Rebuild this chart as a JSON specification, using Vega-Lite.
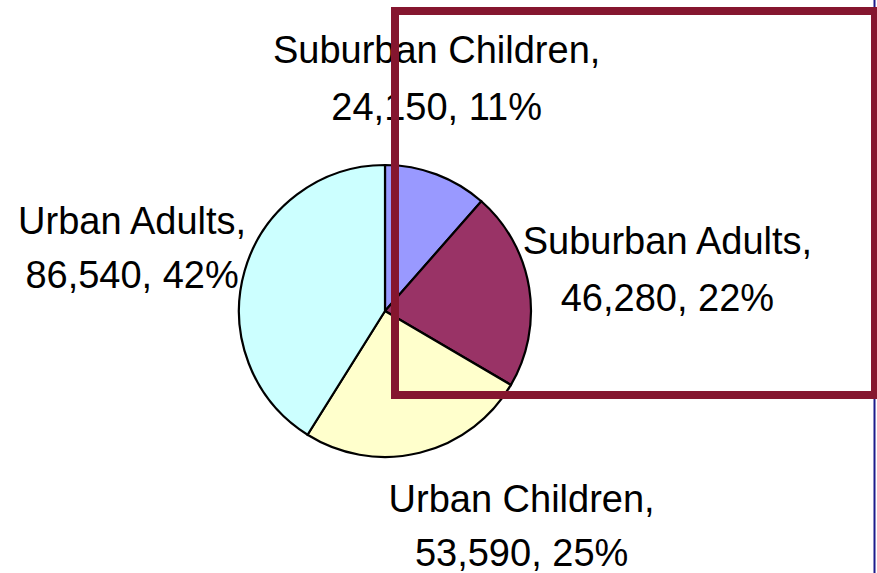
{
  "$schema": "https://vega.github.io/schema/vega-lite/v6.json",
  "width": 877,
  "height": 573,
  "autosize": {"type": "none"},
  "padding": 0,
  "background": "white",
  "config": {"view": {"stroke": null}},
  "data": {
    "values": [
      {"name": "Suburban Children", "value": 24150, "label": "Suburban Children,\n24,150, 11%"},
      {"name": "Suburban Adults", "value": 46280, "label": "Suburban Adults,\n46,280, 22%"},
      {"name": "Urban Children", "value": 53590, "label": "Urban Children,\n53,590, 25%"},
      {"name": "Urban Adults", "value": 86540, "label": "Urban Adults,\n86,540, 42%"}
    ]
  },
  "layer": [
    {
      "mark": {"type": "arc", "outerRadius": 146, "stroke": "black", "strokeWidth": 2.2},
      "encoding": {
        "x": {"datum": 385, "type": "quantitative", "scale": {"domain": [0, 877], "nice": false, "zero": false}, "axis": null},
        "y": {"datum": 311, "type": "quantitative", "scale": {"domain": [0, 573], "nice": false, "zero": false, "reverse": true}, "axis": null},
        "theta": {"field": "value", "type": "quantitative", "stack": true},
        "order": {"field": "value", "type": "quantitative", "sort": "ascending"},
        "color": {
          "field": "name",
          "type": "nominal",
          "scale": {
            "domain": ["Suburban Children", "Suburban Adults", "Urban Children", "Urban Adults"],
            "range": ["#9999FF", "#993366", "#FFFFCC", "#CCFFFF"]
          },
          "legend": null
        }
      }
    },
    {
      "mark": {"type": "text", "font": "Liberation Sans", "fontSize": 38, "lineHeight": 57, "lineBreak": "\n", "align": "center", "baseline": "alphabetic", "color": "black", "radius": 240, "dx": -33, "dy": -23},
      "encoding": {
        "x": {"datum": 385, "type": "quantitative", "scale": {"domain": [0, 877], "nice": false, "zero": false}, "axis": null},
        "y": {"datum": 311, "type": "quantitative", "scale": {"domain": [0, 573], "nice": false, "zero": false, "reverse": true}, "axis": null},
        "theta": {"field": "value", "type": "quantitative", "stack": true},
        "order": {"field": "value", "type": "quantitative", "sort": "ascending"},
        "text": {"condition": {"test": "datum.name === 'Suburban Children'", "field": "label"}, "value": ""}
      }
    },
    {
      "mark": {"type": "text", "font": "Liberation Sans", "fontSize": 38, "lineHeight": 57, "lineBreak": "\n", "align": "center", "baseline": "alphabetic", "color": "black", "radius": 280, "dx": 6, "dy": -12},
      "encoding": {
        "x": {"datum": 385, "type": "quantitative", "scale": {"domain": [0, 877], "nice": false, "zero": false}, "axis": null},
        "y": {"datum": 311, "type": "quantitative", "scale": {"domain": [0, 573], "nice": false, "zero": false, "reverse": true}, "axis": null},
        "theta": {"field": "value", "type": "quantitative", "stack": true},
        "order": {"field": "value", "type": "quantitative", "sort": "ascending"},
        "text": {"condition": {"test": "datum.name === 'Suburban Adults'", "field": "label"}, "value": ""}
      }
    },
    {
      "mark": {"type": "text", "font": "Liberation Sans", "fontSize": 38, "lineHeight": 54, "lineBreak": "\n", "align": "center", "baseline": "alphabetic", "color": "black", "radius": 200, "dx": 89, "dy": 7},
      "encoding": {
        "x": {"datum": 385, "type": "quantitative", "scale": {"domain": [0, 877], "nice": false, "zero": false}, "axis": null},
        "y": {"datum": 311, "type": "quantitative", "scale": {"domain": [0, 573], "nice": false, "zero": false, "reverse": true}, "axis": null},
        "theta": {"field": "value", "type": "quantitative", "stack": true},
        "order": {"field": "value", "type": "quantitative", "sort": "ascending"},
        "text": {"condition": {"test": "datum.name === 'Urban Children'", "field": "label"}, "value": ""}
      }
    },
    {
      "mark": {"type": "text", "font": "Liberation Sans", "fontSize": 38, "lineHeight": 54, "lineBreak": "\n", "align": "center", "baseline": "alphabetic", "color": "black", "radius": 260, "dx": -3, "dy": -5},
      "encoding": {
        "x": {"datum": 385, "type": "quantitative", "scale": {"domain": [0, 877], "nice": false, "zero": false}, "axis": null},
        "y": {"datum": 311, "type": "quantitative", "scale": {"domain": [0, 573], "nice": false, "zero": false, "reverse": true}, "axis": null},
        "theta": {"field": "value", "type": "quantitative", "stack": true},
        "order": {"field": "value", "type": "quantitative", "sort": "ascending"},
        "text": {"condition": {"test": "datum.name === 'Urban Adults'", "field": "label"}, "value": ""}
      }
    },
    {
      "data": {"values": [{}]},
      "mark": {"type": "rule", "color": "#1C1C8C", "strokeWidth": 2},
      "encoding": {
        "x": {"datum": 874.5, "type": "quantitative", "scale": {"domain": [0, 877], "nice": false, "zero": false}, "axis": null},
        "y": {"datum": 0, "type": "quantitative", "scale": {"domain": [0, 573], "nice": false, "zero": false, "reverse": true}, "axis": null},
        "y2": {"datum": 573}
      }
    },
    {
      "data": {"values": [{}]},
      "mark": {"type": "rect", "filled": false, "stroke": "#85162F", "strokeWidth": 8},
      "encoding": {
        "x": {"datum": 395, "type": "quantitative", "scale": {"domain": [0, 877], "nice": false, "zero": false}, "axis": null},
        "x2": {"datum": 875},
        "y": {"datum": 11, "type": "quantitative", "scale": {"domain": [0, 573], "nice": false, "zero": false, "reverse": true}, "axis": null},
        "y2": {"datum": 395}
      }
    }
  ]
}
